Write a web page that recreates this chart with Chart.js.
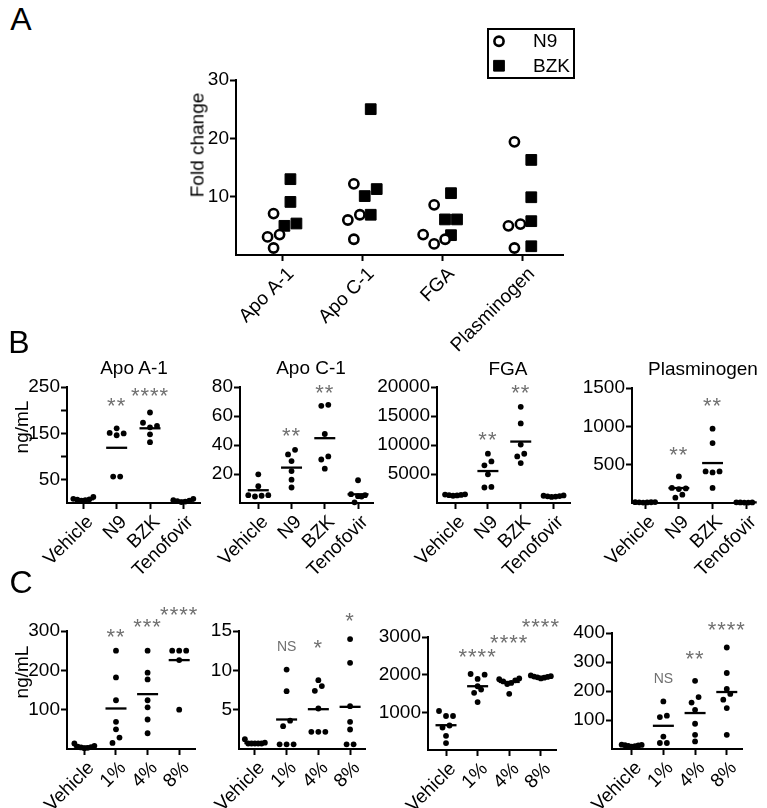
<!DOCTYPE html>
<html>
<head>
<meta charset="utf-8">
<script src="https://cdn.jsdelivr.net/npm/chart.js@4.4.1/dist/chart.umd.min.js"></script>
<style>
html,body{margin:0;padding:0;background:#fff;}
body{width:767px;height:808px;position:relative;overflow:hidden;font-family:'Liberation Sans',Arial,Helvetica,sans-serif;color:#000;}
.box{position:absolute;}
.box canvas{display:block;}
.lbl{position:absolute;white-space:nowrap;line-height:1;}
</style>
</head>
<body>
<script>
const FONT = "'Liberation Sans', Arial, Helvetica, sans-serif";

// ---------------- Panel A : fold change ----------------
const catsA = ['Apo A-1', 'Apo C-1', 'FGA', 'Plasminogen'];
const foldN9  = [[3.5, 1.2, 3.1, 7.1], [6.9, 6.0, 2.7, 12.2], [8.6, 3.5, 1.9, 2.7], [19.4, 5.3, 5.0, 1.2]];
const foldBZK = [[13.0, 9.1, 5.0, 5.4], [25.0, 11.3, 10.1, 6.9], [10.6, 6.1, 6.1, 3.4], [16.3, 9.9, 5.8, 1.5]];
const ticksA = [10, 20, 30];

// ---------------- Panel B : ng/mL by treatment ----------------
const catsB = ['Vehicle', 'N9', 'BZK', 'Tenofovir'];
const apoA1B = [[7, 9, 13, 6, 8, 5], [161, 151, 146, 150, 57, 57], [195, 166, 173, 163, 148, 131], [2, 6, 9, 5, 3, 4]];
const apoA1BMean = [8, 119, 161, 5];
const ticksB1 = [50, 150, 250];
const apoC1B = [[19.8, 11.6, 5.4, 5.4, 4.5, 5.0], [33.5, 36.7, 28.9, 22, 16.1, 10.7], [67.7, 67, 47.6, 32.1, 30, 23.7], [15.7, 6.1, 4.7, 5.4, 4.5, 0.5]];
const apoC1BMean = [8.8, 24.4, 44.7, 6.0];
const ticksB2 = [20, 40, 60, 80];
const fgaB = [[1350, 1500, 1400, 1250, 1450, 1300], [7170, 8500, 6500, 4945, 2670, 2780], [16580, 13720, 10080, 8490, 8030, 6880], [1100, 1250, 1300, 1150, 1200, 1050]];
const fgaBMean = [1380, 5510, 10590, 1180];
const ticksB3 = [5000, 10000, 15000, 20000];
const plasB = [[8, 10, 12, 6, 9, 11], [347, 196, 190, 182, 108, 70], [969, 782, 412, 399, 412, 196], [5, 7, 9, 6, 8, 10]];
const plasBMean = [9, 195, 521, 8];
const ticksB4 = [500, 1000, 1500];

// ---------------- Panel C : ng/mL by concentration ----------------
const catsC = ['Vehicle', '1%', '4%', '8%'];
const apoA1C = [[14, 8, 5, 3, 2, 6, 4], [250, 182, 124, 69, 50, 29, 15.5], [250, 194, 177, 124, 106, 75, 40], [250, 250, 250, 226, 100]];
const apoA1CMean = [6, 103, 139.5, 226];
const ticksC1 = [100, 200, 300];
const apoC1C = [[0.7, 0.7, 0.7, 0.8, 1.25, 0.7, 0.7], [10.1, 7.35, 3.6, 2.9, 0.6, 0.6, 0.6], [8.75, 7.4, 8.0, 5.15, 2.18, 2.18, 2.18], [13.97, 10.95, 5.45, 3.45, 2.48, 0.6, 0.6]];
const apoC1CMean = [0.75, 3.75, 5.06, 5.36];
const ticksC2 = [5, 10, 15];
const fgaC = [[1035, 903, 903, 650, 597, 377, 184], [2018, 1886, 2000, 1693, 1605, 1518, 1272], [1850, 1900, 1880, 1820, 1780, 1750, 1492], [1950, 1980, 1930, 1900, 1920, 1960, 1940]];
const fgaCMean = [658, 1693, 1807, 1940];
const ticksC3 = [1000, 2000, 3000];
const plasC = [[15, 12, 10, 14, 8, 11, 13], [164, 115, 110, 43, 20.7, 20.7], [235, 179, 160, 135, 87, 49, 26], [350, 262, 207, 190, 170, 141, 49]];
const plasCMean = [12, 80, 124, 196.5];
const ticksC4 = [100, 200, 300, 400];

// ---------------- helpers ----------------
Chart.defaults.font.family = FONT;
Chart.defaults.color = '#000';

// beeswarm-like spreading of points that share a row
function swarm(vals, center, yPx, xPx, d, s, maxW) {
  const order = vals.map((v, i) => i).sort((a, b) => vals[a] - vals[b]);
  const out = [];
  let k = 0;
  while (k < order.length) {
    const base = vals[order[k]];
    const row = [order[k++]];
    while (k < order.length && (vals[order[k]] - base) * yPx < d) row.push(order[k++]);
    const n = row.length;
    const step = n > 1 ? Math.min(s, maxW / (n - 1)) : 0;
    const offs = row.map((_, j) => j === 0 ? 0 : (j % 2 ? 1 : -1) * Math.ceil(j / 2) * step);
    const avg = offs.reduce((a, b) => a + b, 0) / n;
    row.forEach((ii, j) => out.push({x: center + (offs[j] - avg) / xPx, y: vals[ii]}));
  }
  return out;
}

function sigPlugin(items) {
  return {
    id: 'sig',
    afterDatasetsDraw(chart) {
      const ctx = chart.ctx, xs = chart.scales.x, ys = chart.scales.y;
      items.forEach(it => {
        const isNS = it.text === 'NS';
        const size = isNS ? 14 : 22;
        ctx.save();
        ctx.fillStyle = '#707070';
        ctx.font = size + 'px ' + FONT;
        ctx.textAlign = 'center';
        ctx.textBaseline = 'alphabetic';
        if (!isNS && 'letterSpacing' in ctx) ctx.letterSpacing = '1px';
        const px = xs.getPixelForValue(it.x), py = ys.getPixelForValue(it.y);
        ctx.fillText(it.text, px, py + (isNS ? 0.36 : 0.57) * size);
        ctx.restore();
      });
    }
  };
}

function legendPlugin(box, items) {
  return {
    id: 'boxLegend',
    afterDraw(chart) {
      const ctx = chart.ctx;
      ctx.save();
      ctx.lineWidth = 2;
      ctx.strokeStyle = '#000';
      ctx.strokeRect(box.x, box.y, box.w, box.h);
      items.forEach((it, i) => {
        const y = box.y + box.h * (i * 2 + 1) / 4;
        const mx = box.x + 11;
        ctx.fillStyle = it.fill; ctx.strokeStyle = '#000'; ctx.lineWidth = it.bw;
        ctx.beginPath();
        if (it.style === 'circle') { ctx.arc(mx, y, it.r, 0, Math.PI * 2); }
        else { const h = it.r * Math.SQRT1_2; ctx.rect(mx - h, y - h, 2 * h, 2 * h); }
        ctx.fill(); if (it.bw) ctx.stroke();
        ctx.fillStyle = '#000';
        ctx.font = '19px ' + FONT;
        ctx.textAlign = 'left';
        ctx.textBaseline = 'middle';
        ctx.fillText(it.label, box.x + 45, y + 1);
      });
      ctx.restore();
    }
  };
}

function buildPanel(p) {
  const yW = p.yW || 64, padT = p.padT || 45, padR = p.padR || 12, xH = p.xH || 82;
  const w = p.W + yW + padR, h = p.H + padT + xH;
  const div = document.createElement('div');
  div.className = 'box';
  div.style.left = (p.L - yW) + 'px';
  div.style.top = (p.T - padT) + 'px';
  div.style.width = w + 'px';
  div.style.height = h + 'px';
  const cv = document.createElement('canvas');
  cv.width = w; cv.height = h;
  cv.style.width = w + 'px'; cv.style.height = h + 'px';
  div.appendChild(cv);
  document.body.appendChild(div);

  const xPx = p.W / (p.xmax - p.xmin);
  const yPx = p.H / p.ymax;
  const datasets = [];
  p.series.forEach(s => {
    const pts = [];
    s.groups.forEach((vals, ci) => pts.push(...swarm(vals, ci + (s.shift || 0), yPx, xPx, p.d, p.s, p.maxW)));
    datasets.push({
      type: 'scatter', label: s.label, data: pts,
      pointStyle: s.style, pointRadius: s.r, pointHoverRadius: s.r,
      borderWidth: s.bw, backgroundColor: s.fill, borderColor: '#000', clip: false, order: 1
    });
  });
  (p.means || []).forEach((m, ci) => {
    datasets.push({
      type: 'line', data: [{x: ci - p.mw / xPx, y: m}, {x: ci + p.mw / xPx, y: m}],
      borderColor: '#000', borderWidth: 2.3, pointRadius: 0, fill: false, clip: false, order: 0
    });
  });

  const gridCfg = {drawOnChartArea: false, drawTicks: true, tickLength: 6, tickWidth: 2, tickColor: '#000'};
  const plugins = [sigPlugin(p.sig || [])];
  if (p.legend) plugins.push(legendPlugin(p.legend.box, p.legend.items));

  new Chart(cv, {
    type: 'scatter',
    data: {datasets},
    options: {
      responsive: false,
      animation: false,
      devicePixelRatio: 1,
      events: [],
      layout: {padding: {top: padT, right: padR, left: 0, bottom: 0}},
      plugins: {legend: {display: false}, tooltip: {enabled: false}},
      scales: {
        x: {
          type: 'linear', min: p.xmin, max: p.xmax,
          afterBuildTicks: sc => { sc.ticks = p.cats.map((c, i) => ({value: i})); },
          afterFit: sc => { sc.height = xH; },
          ticks: {
            autoSkip: false, minRotation: 45, maxRotation: 45, padding: 2, labelOffset: p.lo || 7,
            callback: v => p.cats[Math.round(v)] || '',
            font: {family: FONT, size: 19}, color: '#000'
          },
          grid: gridCfg,
          border: {display: true, color: '#000', width: 2}
        },
        y: {
          type: 'linear', min: 0, max: p.ymax,
          afterBuildTicks: sc => {
            const t = [];
            for (let v = p.ystep; v <= p.ymax + 1e-9; v += p.ystep) t.push({value: v});
            sc.ticks = t;
          },
          afterFit: sc => { sc.width = yW; },
          ticks: {
            padding: 1,
            callback: v => p.ylabels.includes(v) ? String(v) : '',
            font: {family: FONT, size: 19}, color: '#000'
          },
          grid: gridCfg,
          border: {display: true, color: '#000', width: 2}
        }
      }
    },
    plugins
  });
}

function addText(txt, cx, cy, size, rot, color) {
  const d = document.createElement('div');
  d.className = 'lbl';
  d.textContent = txt;
  d.style.left = cx + 'px';
  d.style.top = cy + 'px';
  d.style.fontSize = size + 'px';
  if (color) d.style.color = color;
  d.style.transform = 'translate(-50%,-50%)' + (rot ? ' rotate(' + rot + 'deg)' : '');
  document.body.appendChild(d);
}

const dotStyle = {style: 'circle', r: 2.9, bw: 0, fill: '#000'};
const swarmBC = {d: 6, s: 7, maxW: 20, mw: 10.5};

// ---------------- Panel A ----------------
buildPanel(Object.assign({
  L: 236, T: 80, W: 327, H: 175, xmin: -0.573, xmax: 3.5,
  yW: 64, padT: 58, padR: 15, xH: 112, lo: 9,
  ymax: 30, ystep: 10, ylabels: ticksA, cats: catsA,
  d: 11, s: 12, maxW: 22,
  series: [
    {label: 'N9', groups: foldN9, shift: -0.105, style: 'circle', r: 4.6, bw: 2.6, fill: '#fff'},
    {label: 'BZK', groups: foldBZK, shift: 0.105, style: 'rect', r: 7.6, bw: 1, fill: '#000'}
  ],
  legend: {
    box: {x: 316, y: 7, w: 86, h: 49},
    items: [
      {label: 'N9', style: 'circle', r: 4.6, bw: 2.6, fill: '#fff'},
      {label: 'BZK', style: 'rect', r: 7.6, bw: 1, fill: '#000'}
    ]
  }
}));

// ---------------- Panel B ----------------
buildPanel(Object.assign({
  L: 67, T: 387, W: 133, H: 116, xmin: -0.49, xmax: 3.5,
  ymax: 250, ystep: 50, ylabels: ticksB1, cats: catsB,
  series: [Object.assign({groups: apoA1B}, dotStyle)], means: apoA1BMean,
  sig: [{x: 1, y: 220, text: '**'}, {x: 2, y: 243, text: '****'}]
}, swarmBC));
buildPanel(Object.assign({
  L: 240, T: 387, W: 133, H: 116, xmin: -0.55, xmax: 3.45,
  ymax: 80, ystep: 20, ylabels: ticksB2, cats: catsB,
  series: [Object.assign({groups: apoC1B}, dotStyle)], means: apoC1BMean,
  sig: [{x: 1, y: 49.9, text: '**'}, {x: 2, y: 80, text: '**'}]
}, swarmBC));
buildPanel(Object.assign({
  L: 437, T: 387, W: 133, H: 116, xmin: -0.55, xmax: 3.5,
  ymax: 20000, ystep: 5000, ylabels: ticksB3, cats: catsB,
  series: [Object.assign({groups: fgaB}, dotStyle)], means: fgaBMean,
  sig: [{x: 1, y: 11800, text: '**'}, {x: 2, y: 19880, text: '**'}]
}, swarmBC));
buildPanel(Object.assign({
  L: 632, T: 388, W: 121, H: 115, xmin: -0.39, xmax: 3.18,
  ymax: 1500, ystep: 500, ylabels: ticksB4, cats: catsB,
  series: [Object.assign({groups: plasB}, dotStyle)], means: plasBMean,
  sig: [{x: 1, y: 704, text: '**'}, {x: 2, y: 1334, text: '**'}]
}, swarmBC));

// ---------------- Panel C ----------------
buildPanel(Object.assign({
  L: 67, T: 631, W: 128, H: 118, xmin: -0.55, xmax: 3.5,
  ymax: 300, ystep: 100, ylabels: ticksC1, cats: catsC,
  series: [Object.assign({groups: apoA1C}, dotStyle)], means: apoA1CMean,
  sig: [{x: 1, y: 298, text: '**'}, {x: 2, y: 324, text: '***'}, {x: 3, y: 355, text: '****'}]
}, swarmBC));
buildPanel(Object.assign({
  L: 239, T: 631, W: 126, H: 118, xmin: -0.5, xmax: 3.47,
  ymax: 15, ystep: 5, ylabels: ticksC2, cats: catsC,
  series: [Object.assign({groups: apoC1C}, dotStyle)], means: apoC1CMean,
  sig: [{x: 1, y: 13.1, text: 'NS'}, {x: 2, y: 13.5, text: '*'}, {x: 3, y: 17.0, text: '*'}]
}, swarmBC));
buildPanel(Object.assign({
  L: 428, T: 637, W: 128, H: 113, xmin: -0.57, xmax: 3.48,
  ymax: 3000, ystep: 1000, ylabels: ticksC3, cats: catsC,
  series: [Object.assign({groups: fgaC}, dotStyle)], means: fgaCMean,
  sig: [{x: 1, y: 2613, text: '****'}, {x: 2, y: 2992, text: '****'}, {x: 3, y: 3403, text: '****'}]
}, swarmBC));
buildPanel(Object.assign({
  L: 612, T: 633, W: 130, H: 116, xmin: -0.62, xmax: 3.48,
  ymax: 400, ystep: 100, ylabels: ticksC4, cats: catsC,
  series: [Object.assign({groups: plasC}, dotStyle)], means: plasCMean,
  sig: [{x: 1, y: 245, text: 'NS'}, {x: 2, y: 331, text: '**'}, {x: 3, y: 431, text: '****'}]
}, swarmBC));

// ---------------- free text ----------------
addText('A', 21, 19, 32);
addText('B', 19, 342, 32);
addText('C', 21, 582, 32);
addText('Fold change', 197, 145, 19, -90);
addText('Apo A-1', 134, 367, 19);
addText('Apo C-1', 311, 367, 19);
addText('FGA', 508, 368, 19);
addText('Plasminogen', 703, 368, 19);
addText('ng/mL', 20.5, 427, 19, -90);
addText('ng/mL', 20.5, 672, 19, -90);
</script>
</body>
</html>
